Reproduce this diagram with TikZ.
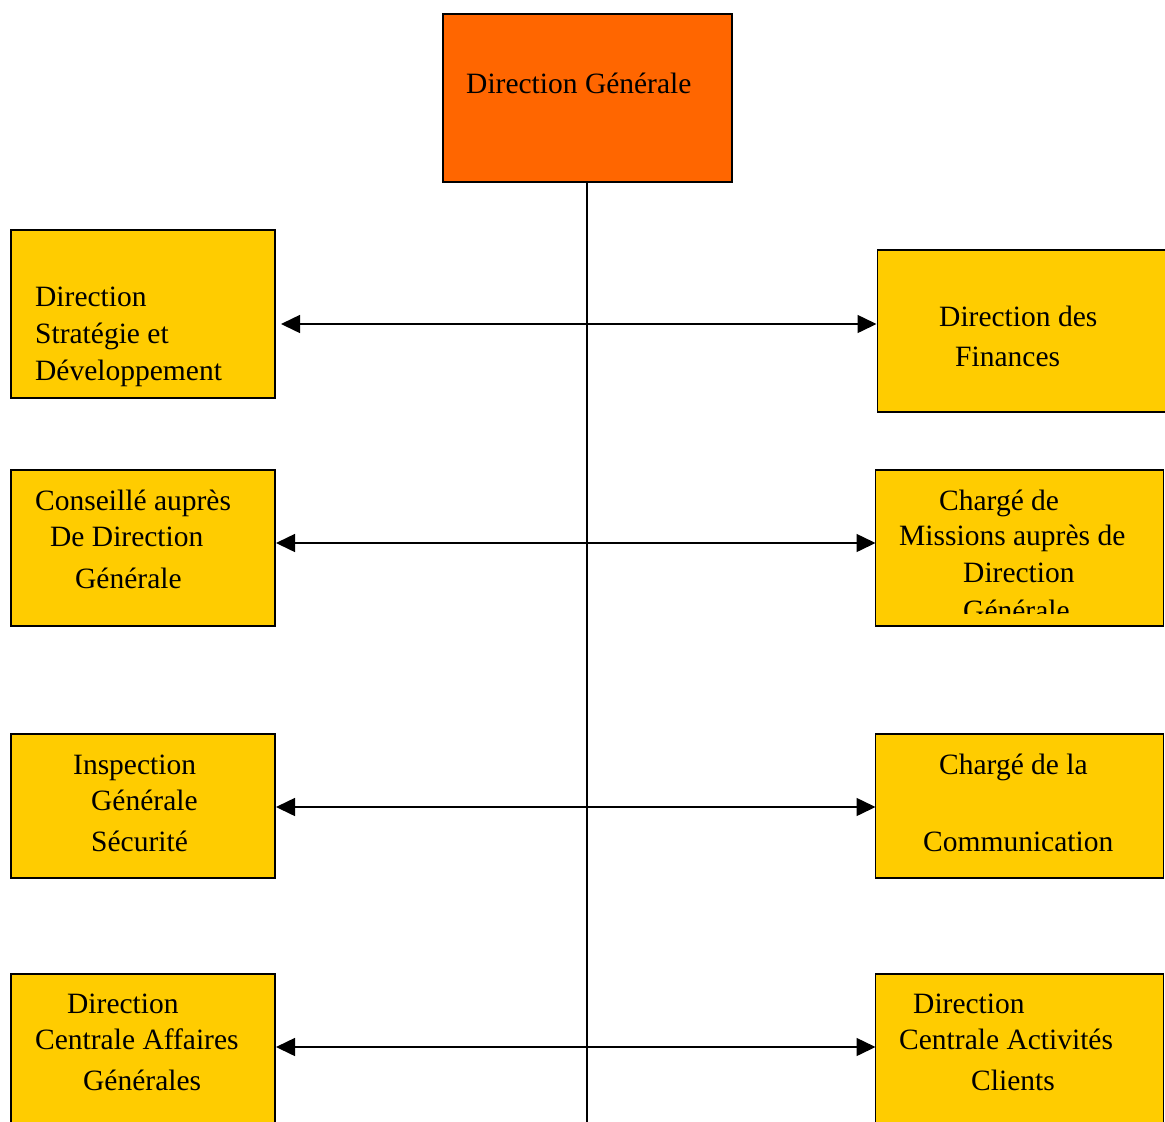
\documentclass[tikz,border=0pt]{standalone}
\usepackage{fontspec}
\setmainfont{Liberation Serif}
\usetikzlibrary{arrows.meta}
\definecolor{dgorange}{HTML}{FF6600}
\definecolor{boxyellow}{HTML}{FFCC00}
\begin{document}
\begin{tikzpicture}[x=1pt,y=-1pt,
  box/.style={draw=black,line width=1.5pt,fill=boxyellow,anchor=north west,inner sep=0pt,outer sep=0pt},
  topbox/.style={box,fill=dgorange},
  txt/.style={anchor=base west,inner sep=0pt,font=\fontsize{29.5}{35}\selectfont},
  link/.style={line width=1.5pt},
  biarrow/.style={line width=1.5pt,{Triangle[length=19pt,width=18pt]}-{Triangle[length=19pt,width=18pt]}}]
\useasboundingbox (0,0) rectangle (1165,1122);
\clip (0,0) rectangle (1165,1122);
% boxes
\node[topbox,minimum width=289pt,minimum height=168pt] (dg) at (443,14) {};
\node[box,minimum width=264pt,minimum height=168pt] (l1) at (11,230) {};
\node[box,minimum width=264pt,minimum height=156pt] (l2) at (11,470) {};
\node[box,minimum width=264pt,minimum height=144pt] (l3) at (11,734) {};
\node[box,minimum width=264pt,minimum height=170pt] (l4) at (11,974) {};
\node[box,minimum width=289pt,minimum height=162pt] (r1) at (877.5,250) {};
\node[box,minimum width=288pt,minimum height=156pt] (r2) at (875.5,470) {};
\node[box,minimum width=288pt,minimum height=144pt] (r3) at (875.5,734) {};
\node[box,minimum width=288pt,minimum height=170pt] (r4) at (875.5,974) {};
% texts
\node[txt] (tdg) at (466,93) {Direction Générale};
\node[txt] (tl1a) at (35,306) {Direction};
\node[txt] (tl1b) at (35,343) {Stratégie et};
\node[txt] (tl1c) at (35,380) {Développement};
\node[txt] (tr1a) at (939,326) {Direction des};
\node[txt] (tr1b) at (955,366) {Finances};
\node[txt] (tl2a) at (35,510) {Conseillé auprès};
\node[txt] (tl2b) at (50,546) {De Direction};
\node[txt] (tl2c) at (75,588) {Générale};
\node[txt] (tr2a) at (939,510) {Chargé de};
\node[txt] (tr2b) at (899,545) {Missions auprès de};
\node[txt] (tr2c) at (963,582) {Direction};
\begin{scope}
\clip (875,470) rectangle (1163,613);
\node[txt] (tr2d) at (963,620) {Générale};
\end{scope}
\node[txt] (tl3a) at (73,774) {Inspection};
\node[txt] (tl3b) at (91,810) {Générale};
\node[txt] (tl3c) at (91,851) {Sécurité};
\node[txt] (tr3a) at (939,774) {Chargé de la};
\node[txt] (tr3b) at (923,851) {Communication};
\node[txt] (tl4a) at (67,1013) {Direction};
\node[txt] (tl4b) at (35,1049) {Centrale Affaires};
\node[txt] (tl4c) at (83,1090) {Générales};
\node[txt] (tr4a) at (913,1013) {Direction};
\node[txt] (tr4b) at (899,1049) {Centrale Activités};
\node[txt] (tr4c) at (971,1090) {Clients};
% connectors
\coordinate (bottom) at (587,1130);
\coordinate (a1) at (587,324);
\coordinate (a2) at (587,543);
\coordinate (a3) at (587,807);
\coordinate (a4) at (587,1047);
\draw[link] (dg.south -| bottom) -- (bottom);
\draw[biarrow,shorten <=6pt,shorten >=1pt] (l1.east |- a1) -- (r1.west |- a1);
\draw[biarrow,shorten <=1pt,shorten >=0pt] (l2.east |- a2) -- (r2.west |- a2);
\draw[biarrow,shorten <=1pt,shorten >=0pt] (l3.east |- a3) -- (r3.west |- a3);
\draw[biarrow,shorten <=1pt,shorten >=0pt] (l4.east |- a4) -- (r4.west |- a4);
\end{tikzpicture}
\end{document}
